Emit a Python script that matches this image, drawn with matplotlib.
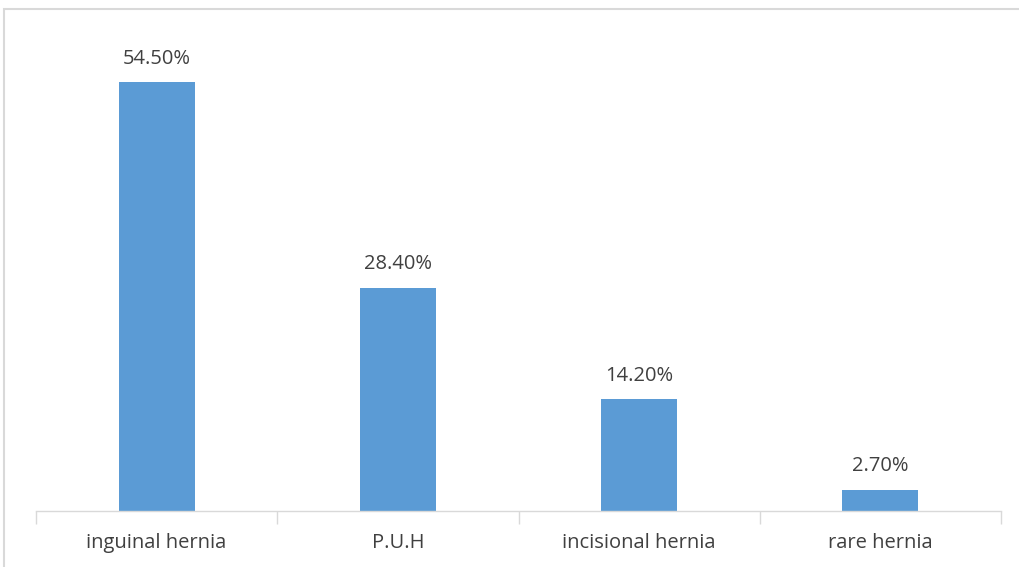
import matplotlib
matplotlib.use("Agg")
import matplotlib.pyplot as plt
from matplotlib.patches import Rectangle

categories = ["inguinal hernia", "P.U.H", "incisional hernia", "rare hernia"]
values = [54.5, 28.4, 14.2, 2.7]
labels = ["54.50%", "28.40%", "14.20%", "2.70%"]

plt.rcParams['font.family'] = ['Open Sans', 'DejaVu Sans']

W, H = 1019, 567
fig = plt.figure(figsize=(W/100, H/100), dpi=100)
fig.patch.set_facecolor("white")

# chart area border (cropped)
fig.patches.append(Rectangle((4/W, -0.1), 1.2, 1.1 - 9/H, transform=fig.transFigure,
                             fill=False, edgecolor="#d9d9d9", linewidth=1.5))

ax = fig.add_axes([36/W, 56/H, (1001-36)/W, 472/H])
x = list(range(len(categories)))
ax.bar(x, values, width=0.315, color="#5B9BD5")
for xi, v, lab in zip(x, values, labels):
    ax.annotate(lab, (xi, v), xytext=(0, 17), textcoords="offset points",
                ha="center", va="center", fontsize=14.5, color="#404040")

ax.set_xlim(-0.5, len(categories) - 0.5)
ax.set_ylim(0, 60)
ax.set_xticks(x)
ax.set_xticklabels(categories, fontsize=14.5, color="#404040")
ax.set_xticks([i - 0.5 for i in range(len(categories) + 1)], minor=True)
ax.tick_params(axis="x", which="major", length=0, pad=16)
ax.tick_params(axis="x", which="minor", length=9, color="#d9d9d9", width=1)
ax.set_yticks([])
for s in ["top", "right", "left"]:
    ax.spines[s].set_visible(False)
ax.spines["bottom"].set_color("#d9d9d9")
ax.spines["bottom"].set_linewidth(1)

fig.savefig("out.png", dpi=100, facecolor="white")
